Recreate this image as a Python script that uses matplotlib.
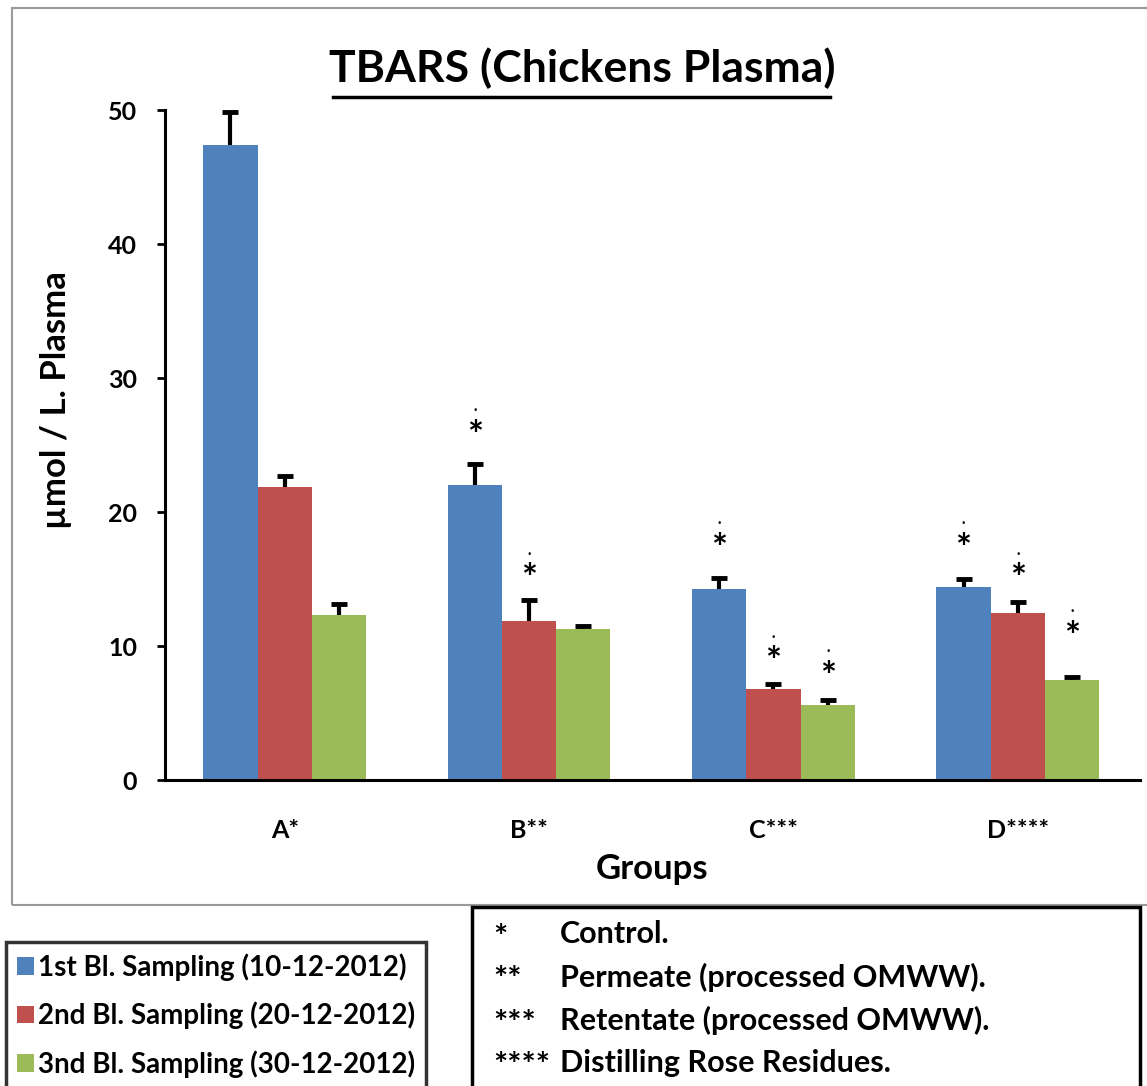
import matplotlib
matplotlib.use("Agg")
import matplotlib.pyplot as plt
from matplotlib.patches import Rectangle
import numpy as np

plt.rcParams['font.family'] = ['Lato', 'DejaVu Sans']
plt.rcParams['font.weight'] = 'bold'

groups = ["A*", "B**", "C***", "D****"]
series = ["1st Bl. Sampling (10-12-2012)",
          "2nd Bl. Sampling (20-12-2012)",
          "3nd Bl. Sampling (30-12-2012)"]
values_1st = [47.4, 22.0, 14.25, 14.4]
values_2nd = [21.9, 11.9, 6.8, 12.5]
values_3rd = [12.3, 11.3, 5.6, 7.5]
err_1st = [2.45, 1.6, 0.85, 0.6]
err_2nd = [0.8, 1.5, 0.4, 0.8]
err_3rd = [0.8, 0.2, 0.4, 0.2]
# significance star heights (None = no star)
star_1st = [None, 25.6, 17.2, 17.2]
star_2nd = [None, 14.9, 8.7, 14.9]
star_3rd = [None, None, 7.6, 10.6]
yticks = [0, 10, 20, 30, 40, 50]
footnote_marks = ["*", "**", "***", "****"]
footnote_texts = ["Control.", "Permeate (processed OMWW).",
                  "Retentate (processed OMWW).", "Distilling Rose Residues."]

colors = ["#4F81BD", "#C0504D", "#9BBB59"]

W, H = 1147, 1086
fig = plt.figure(figsize=(W / 100, H / 100), dpi=100)

def fx(px):
    return px / W

def fy(py):
    return 1 - py / H

# outer chart border
fig.patches.append(Rectangle((fx(12), fy(905)), fx(1160) - fx(12), fy(8) - fy(905),
                             transform=fig.transFigure, fill=False,
                             edgecolor="#9a9a9a", linewidth=1.5, zorder=0))

ax = fig.add_axes([fx(165), fy(780), fx(1140) - fx(165), fy(110) - fy(780)])
x = np.arange(len(groups))
bw = 0.222
all_vals = [values_1st, values_2nd, values_3rd]
all_errs = [err_1st, err_2nd, err_3rd]
all_stars = [star_1st, star_2nd, star_3rd]
handles = []
for i in range(3):
    xs = x + (i - 1) * bw
    b = ax.bar(xs, all_vals[i], bw, color=colors[i], label=series[i], zorder=2)
    handles.append(b)
    eb = ax.errorbar(xs, all_vals[i], yerr=[np.zeros(4), all_errs[i]], fmt="none",
                     ecolor="black", elinewidth=3, capsize=6, capthick=3.5, zorder=3)
    caps = eb[1]
    if len(caps) == 2:
        caps[0].set_visible(False)
    for xi, s in zip(xs, all_stars[i]):
        if s is not None:
            ax.text(xi, s, "*", ha="center", va="center", fontsize=27,
                    fontweight="bold", color="black")
            ax.text(xi, s + 2.0, "·", ha="center", va="center", fontsize=9,
                    color="black")

ax.set_xlim(-0.49, 3.5)
ax.set_ylim(0, 50)
ax.set_yticks(yticks)
ax.set_xticks(x)
ax.set_xticklabels(groups)
ax.tick_params(axis="x", length=0, pad=28, labelsize=18)
ax.tick_params(axis="y", length=6, width=2, direction="out", pad=14, labelsize=18)
for sp in ["top", "right"]:
    ax.spines[sp].set_visible(False)
for sp in ["left", "bottom"]:
    ax.spines[sp].set_linewidth(2.2)
ax.set_ylabel("µmol / L. Plasma", fontsize=25, fontweight="bold")
ax.yaxis.set_label_coords((72 - 165) / 975, (780 - 400) / 670)
ax.set_xlabel("Groups", fontsize=25, fontweight="bold", labelpad=8)

# title
fig.text(fx(582), fy(68), "TBARS (Chickens Plasma)", ha="center", va="center",
         fontsize=32, fontweight="bold")
fig.add_artist(plt.Line2D([fx(333), fx(830)], [fy(97), fy(97)], color="black",
                          linewidth=2.5, transform=fig.transFigure))

# series legend
leg = fig.legend(handles=handles, labels=series, loc="upper left",
                 bbox_to_anchor=(fx(6), fy(942)), fontsize=20, frameon=True,
                 fancybox=False, edgecolor="black", handlelength=0.6,
                 handleheight=0.6, handletextpad=0.15, labelspacing=0.75,
                 borderpad=0.4, borderaxespad=0)
leg.get_frame().set_linewidth(2.5)

# footnote box
fig.patches.append(Rectangle((fx(472), fy(1090)), fx(1140) - fx(472), fy(907) - fy(1090),
                             transform=fig.transFigure, fill=True, facecolor="white",
                             edgecolor="black", linewidth=2.5, zorder=1))
for k, (m, t) in enumerate(zip(footnote_marks, footnote_texts)):
    row = 934 + k * 43
    fig.text(fx(493), fy(row + 4), m, ha="left", va="center", fontsize=24,
             fontweight="bold")
    fig.text(fx(560), fy(row), t, ha="left", va="center",
             fontsize=22, fontweight="bold")

fig.savefig("out.png", dpi=100)
